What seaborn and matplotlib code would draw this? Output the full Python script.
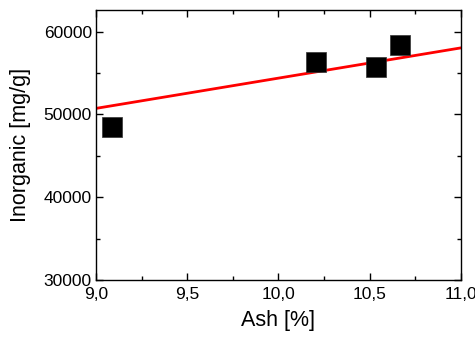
import numpy as np
import pandas as pd
import matplotlib
matplotlib.use("Agg")
import matplotlib.pyplot as plt
import seaborn as sns
from matplotlib.ticker import MultipleLocator, FuncFormatter

# measured points
ash = [9.086, 10.207, 10.536, 10.667]
inorganic = [48450, 56330, 55720, 58330]

# linear fit line (endpoints)
fit_x = [9.0, 11.0]
fit_y = [50730, 58040]

sns.set_style("ticks")
plt.rcParams['font.family'] = ['Liberation Sans', 'DejaVu Sans']
plt.rcParams['text.color'] = 'black'
plt.rcParams['axes.labelcolor'] = 'black'
plt.rcParams['xtick.color'] = 'black'
plt.rcParams['ytick.color'] = 'black'

df = pd.DataFrame({"Ash": ash, "Inorganic": inorganic})
fit = pd.DataFrame({"Ash": fit_x, "Inorganic": fit_y})

fig = plt.figure(figsize=(4.75, 3.37), dpi=100)
ax = fig.add_axes([0.202, 0.169, 0.7685, 0.801])

sns.lineplot(data=fit, x="Ash", y="Inorganic", color="red", linewidth=2, ax=ax, zorder=2)
sns.scatterplot(data=df, x="Ash", y="Inorganic", marker="s", s=190, color="black",
                edgecolor="#333333", linewidth=0.5, ax=ax, zorder=3)

ax.set_xlim(9.0, 11.0)
ax.set_ylim(30000, 62600)
ax.xaxis.set_major_locator(MultipleLocator(0.5))
ax.xaxis.set_minor_locator(MultipleLocator(0.25))
ax.yaxis.set_major_locator(MultipleLocator(10000))
ax.yaxis.set_minor_locator(MultipleLocator(5000))
ax.xaxis.set_major_formatter(FuncFormatter(lambda v, p: f"{v:.1f}".replace(".", ",")))
ax.yaxis.set_major_formatter(FuncFormatter(lambda v, p: f"{v:.0f}"))

ax.tick_params(which="both", direction="in", top=True, right=True, width=1, labelsize=12.5)
ax.tick_params(axis="x", which="major", pad=5)
ax.tick_params(axis="y", which="major", pad=3)
ax.tick_params(which="major", length=5)
ax.tick_params(which="minor", length=3)
for s in ax.spines.values():
    s.set_visible(True)
    s.set_linewidth(1)
    s.set_color("black")

ax.set_xlabel("Ash [%]", fontsize=15.5, labelpad=6)
ax.set_ylabel("Inorganic [mg/g]", fontsize=15.5, labelpad=9)

fig.savefig("out.png", dpi=100)
